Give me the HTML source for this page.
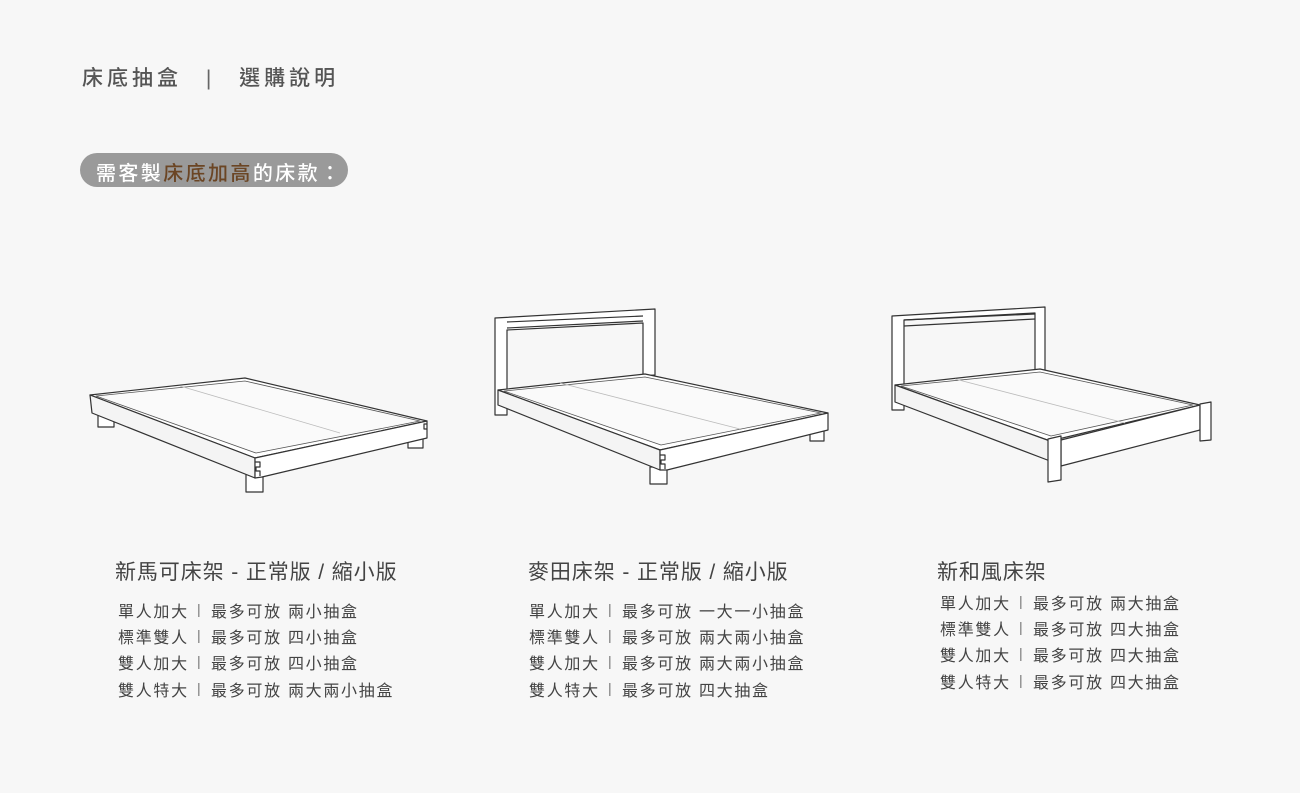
<!DOCTYPE html>
<html><head><meta charset="utf-8">
<style>
html,body{margin:0;padding:0}
body{width:1300px;height:793px;background:#f7f7f7;position:relative;overflow:hidden;font-family:"Liberation Sans","Noto Sans CJK TC",sans-serif;}
.t{position:absolute;white-space:nowrap}
.title{left:82px;top:62px;font-size:21px;color:#555;letter-spacing:4px;font-weight:500}
.pill{position:absolute;left:80px;top:153px;width:268px;height:34px;border-radius:17px;background:#9a9a9a}
.pt{left:96px;top:157px;font-size:20px;color:#fff;letter-spacing:2.4px;font-weight:500}
.pt b{color:#6b4524;font-weight:500}
.h{font-size:21px;color:#444;letter-spacing:0.9px}
.r{font-size:16px;color:#444;letter-spacing:1.7px;font-weight:normal}
.bar{font-size:14px;color:#777}
</style></head><body>
<div class="t title">床底抽盒 <span style="font-weight:300;color:#666;margin:0 14px">|</span> 選購說明</div>
<div class="pill"></div>
<div class="t pt">需客製<b>床底加高</b>的床款：</div>

<svg width="1300" height="793" style="position:absolute;left:0;top:0" fill="#fff" stroke="#333" stroke-width="1.2" stroke-linejoin="round">
<!-- bed 1 -->
<rect x="98" y="410" width="16" height="17"/>
<rect x="408" y="432" width="15" height="16"/>
<rect x="246" y="474" width="17" height="18"/>
<polygon points="90,395 245,378 427,421 255,458"/>
<polygon points="96,396 245,381 420,421 256,453" fill="#fafafa" stroke="#555" stroke-width="0.8"/>
<line x1="180" y1="386" x2="340" y2="433" stroke="#bbb" stroke-width="0.8"/>
<polygon points="90,395 255,458 255,478 92,413" fill="#f4f4f4"/>
<polygon points="255,458 427,421 427,438 262,477 255,478"/>
<path d="M255,462 h5 v5 h-4 v4 h4 v5" fill="none"/>
<path d="M427,424 h-3 v5 h3" fill="none"/>
<!-- bed 2 -->
<polygon points="495,318 655,309 655,375 643,376 643,323 507,330 507,415 495,415" />
<line x1="507" y1="322" x2="643" y2="316"/>
<line x1="507" y1="328" x2="643" y2="321"/>
<rect x="810" y="428" width="14" height="13"/>
<rect x="650" y="467" width="17" height="17"/>
<polygon points="498,390 645,374 828,413 660,450"/>
<polygon points="504,391 645,377 821,413 661,445" fill="#fafafa" stroke="#555" stroke-width="0.8"/>
<line x1="560" y1="383" x2="740" y2="429" stroke="#bbb" stroke-width="0.8"/>
<polygon points="498,390 660,450 660,470 498,405" fill="#f4f4f4"/>
<polygon points="660,450 828,413 828,430 667,470 660,470"/>
<path d="M660,455 h5 v5 h-4 v4 h4 v5" fill="none"/>
<!-- bed 3 -->
<polygon points="892,316 1045,307 1045,370 1035,371 1035,313 904,320 904,410 892,410"/>
<line x1="904" y1="320" x2="1035" y2="314"/>
<line x1="904" y1="326" x2="1035" y2="319"/>
<polygon points="895,385 1040,369 1200,405 1050,441"/>
<polygon points="901,386 1040,372 1193,405 1051,436" fill="#fafafa" stroke="#555" stroke-width="0.8"/>
<line x1="955" y1="379" x2="1125" y2="423" stroke="#bbb" stroke-width="0.8"/>
<polygon points="895,385 1050,441 1050,461 895,402" fill="#f4f4f4"/>
<polygon points="1061,440 1200,405 1200,430 1061,466"/>
<polygon points="1200,404 1211,402 1211,440 1200,441"/>
<polygon points="1048,439 1061,436 1061,480 1048,482"/>
</svg>

<div class="t h" style="left:115px;top:556px">新馬可床架 - 正常版 / 縮小版</div>
<div class="t h" style="left:528px;top:556px">麥田床架 - 正常版 / 縮小版</div>
<div class="t h" style="left:937px;top:556px">新和風床架</div>

<div class="t r" style="left:118px;top:598px">單人加大</div><div class="t bar" style="left:197px;top:601px">|</div><div class="t r" style="left:211px;top:598px">最多可放 兩小抽盒</div>
<div class="t r" style="left:118px;top:624px">標準雙人</div><div class="t bar" style="left:197px;top:627px">|</div><div class="t r" style="left:211px;top:624px">最多可放 四小抽盒</div>
<div class="t r" style="left:118px;top:650px">雙人加大</div><div class="t bar" style="left:197px;top:653px">|</div><div class="t r" style="left:211px;top:650px">最多可放 四小抽盒</div>
<div class="t r" style="left:118px;top:677px">雙人特大</div><div class="t bar" style="left:197px;top:680px">|</div><div class="t r" style="left:211px;top:677px">最多可放 兩大兩小抽盒</div>

<div class="t r" style="left:529px;top:598px">單人加大</div><div class="t bar" style="left:608px;top:601px">|</div><div class="t r" style="left:622px;top:598px">最多可放 一大一小抽盒</div>
<div class="t r" style="left:529px;top:624px">標準雙人</div><div class="t bar" style="left:608px;top:627px">|</div><div class="t r" style="left:622px;top:624px">最多可放 兩大兩小抽盒</div>
<div class="t r" style="left:529px;top:650px">雙人加大</div><div class="t bar" style="left:608px;top:653px">|</div><div class="t r" style="left:622px;top:650px">最多可放 兩大兩小抽盒</div>
<div class="t r" style="left:529px;top:677px">雙人特大</div><div class="t bar" style="left:608px;top:680px">|</div><div class="t r" style="left:622px;top:677px">最多可放 四大抽盒</div>

<div class="t r" style="left:940px;top:590px">單人加大</div><div class="t bar" style="left:1019px;top:593px">|</div><div class="t r" style="left:1033px;top:590px">最多可放 兩大抽盒</div>
<div class="t r" style="left:940px;top:616px">標準雙人</div><div class="t bar" style="left:1019px;top:619px">|</div><div class="t r" style="left:1033px;top:616px">最多可放 四大抽盒</div>
<div class="t r" style="left:940px;top:642px">雙人加大</div><div class="t bar" style="left:1019px;top:645px">|</div><div class="t r" style="left:1033px;top:642px">最多可放 四大抽盒</div>
<div class="t r" style="left:940px;top:669px">雙人特大</div><div class="t bar" style="left:1019px;top:672px">|</div><div class="t r" style="left:1033px;top:669px">最多可放 四大抽盒</div>
</body></html>
